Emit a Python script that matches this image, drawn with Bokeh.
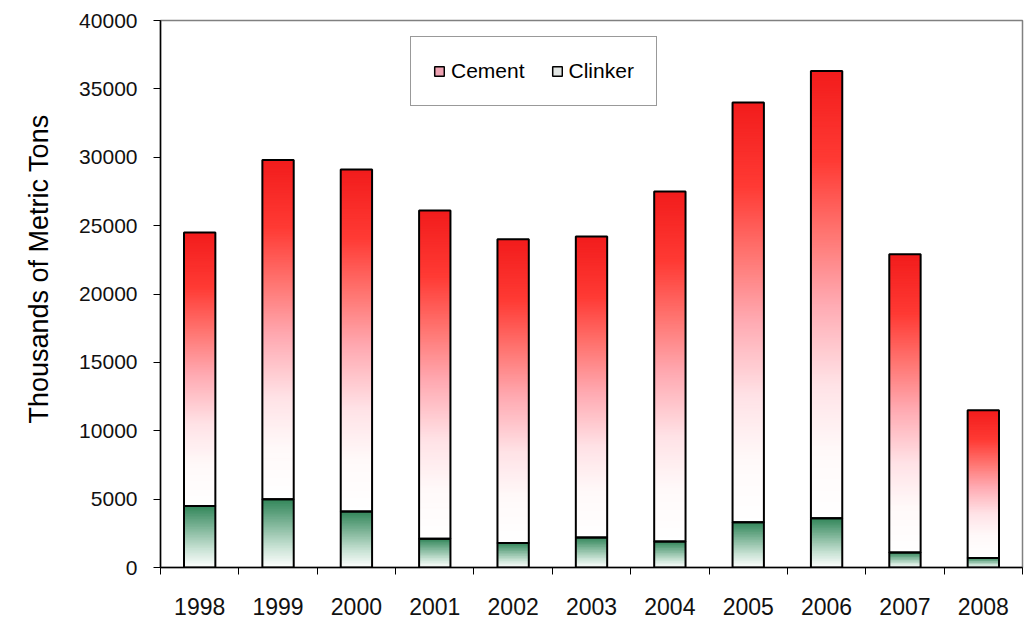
import math
import numpy as np
from bokeh.plotting import figure
from bokeh.models import (ColumnDataSource, FixedTicker, Legend, LegendItem,
                          Range1d, BasicTickFormatter, Title)
from bokeh.embed import file_html
from bokeh.resources import INLINE

# Imports by year, thousands of metric tons
years = ["1998", "1999", "2000", "2001", "2002", "2003",
         "2004", "2005", "2006", "2007", "2008"]
clinker = [4500, 5000, 4100, 2100, 1800, 2200, 1900, 3300, 3600, 1100, 700]
cement = [20000, 24800, 25000, 24000, 22200, 22000, 25600, 30700, 32700, 21800, 10800]

y_ticks = [0, 5000, 10000, 15000, 20000, 25000, 30000, 35000, 40000]

FONT = "Liberation Sans"
BAR_W = 0.4
SLICE_H = 120  # data height of one gradient strip

# colour stops (fraction from segment bottom -> rgb)
CEMENT_STOPS = [(0.0, (255, 255, 255)), (0.15, (255, 249, 249)),
                (0.3, (255, 226, 230)), (0.48, (255, 170, 178)),
                (0.64, (255, 116, 112)), (0.8, (255, 58, 52)),
                (1.0, (242, 28, 28))]
CLINKER_STOPS = [(0.0, (255, 255, 255)), (0.3, (200, 226, 212)),
                 (1.0, (50, 134, 90))]


def ramp(stops, f):
    pos = [s[0] for s in stops]
    rgb = [int(round(np.interp(f, pos, [s[1][ch] for s in stops])))
           for ch in range(3)]
    return "#%02x%02x%02x" % tuple(rgb)


xs = list(range(len(years)))
clinker_arr = np.array(clinker, dtype=float)
total_arr = clinker_arr + np.array(cement, dtype=float)

p = figure(width=1035, height=618, output_backend="svg", toolbar_location=None,
           x_range=Range1d(-0.5, len(years) - 0.5), y_range=Range1d(0, 40000),
           min_border_left=160, min_border_right=13, min_border_top=20,
           min_border_bottom=51)
p.background_fill_color = "white"
p.border_fill_color = "white"
p.outline_line_color = "#808080"
p.outline_line_width = 1.5
p.xgrid.visible = False
p.ygrid.visible = False


def gradient_segment(bottoms, tops, stops):
    sx, sb, st, sc = [], [], [], []
    for x, b, t in zip(xs, bottoms, tops):
        h = t - b
        n = max(int(math.ceil(h / SLICE_H)), 1)
        for i in range(n):
            sx.append(x)
            sb.append(b + h * i / n)
            st.append(min(b + h * (i + 2) / n, t))
            sc.append(ramp(stops, (i + 0.5) / n))
    src = ColumnDataSource(dict(x=sx, bottom=sb, top=st, color=sc))
    p.vbar(x="x", bottom="bottom", top="top", width=BAR_W, source=src,
           fill_color="color", line_color=None)


gradient_segment(np.zeros(len(xs)), clinker_arr, CLINKER_STOPS)
gradient_segment(clinker_arr, total_arr, CEMENT_STOPS)

# segment outlines
p.vbar(x=xs, bottom=0, top=clinker_arr, width=BAR_W, fill_alpha=0,
       line_color="black", line_width=2)
p.vbar(x=xs, bottom=clinker_arr, top=total_arr, width=BAR_W, fill_alpha=0,
       line_color="black", line_width=2)

# legend swatches (renderers with no visible geometry)
nan_quad = dict(left=[np.nan], right=[np.nan], bottom=[np.nan], top=[np.nan])
leg_cem = p.quad(source=ColumnDataSource(nan_quad), left="left", right="right",
                 bottom="bottom", top="top", fill_color="#eea2b2",
                 line_color="black", line_width=1.5)
leg_clk = p.quad(source=ColumnDataSource(dict(nan_quad)), left="left",
                 right="right", bottom="bottom", top="top",
                 fill_color="#e2e6e4", line_color="black", line_width=1.5)
legend = Legend(items=[LegendItem(label="Cement", renderers=[leg_cem]),
                       LegendItem(label="Clinker", renderers=[leg_clk])],
                orientation="horizontal", location=(250, 461), margin=0,
                padding=22, spacing=26, glyph_width=12, glyph_height=12,
                label_standoff=6, label_height=24,
                label_text_font=FONT, label_text_font_size="21px",
                label_text_color="black",
                border_line_color="#333333", border_line_width=1.5,
                background_fill_color="white", background_fill_alpha=1)
p.add_layout(legend)

# y axis
p.yaxis.ticker = FixedTicker(ticks=y_ticks)
p.yaxis.formatter = BasicTickFormatter(use_scientific=False)
p.yaxis.minor_tick_line_color = None
p.yaxis.major_tick_in = 0
p.yaxis.major_tick_out = 7
p.yaxis.major_tick_line_color = "black"
p.yaxis.axis_line_color = "black"
p.yaxis.axis_line_width = 1.5
p.yaxis.major_label_text_font = FONT
p.yaxis.major_label_text_font_size = "21px"
p.yaxis.major_label_text_color = "#111111"
p.yaxis.major_label_standoff = 16

# y axis title, starting above the bottom of the frame
p.add_layout(Title(text="Thousands of Metric Tons", align="left", offset=144,
                   standoff=42, vertical_align="top", text_font=FONT,
                   text_font_size="27px", text_font_style="normal",
                   text_color="black"), "left")

# x axis: labels at bar centres, tick marks between categories
p.xaxis.ticker = FixedTicker(ticks=xs,
                             minor_ticks=[x - 0.5 for x in xs] + [xs[-1] + 0.5])
p.xaxis.major_label_overrides = {x: y for x, y in zip(xs, years)}
p.xaxis.major_tick_line_color = None
p.xaxis.major_tick_in = 0
p.xaxis.major_tick_out = 0
p.xaxis.minor_tick_in = 0
p.xaxis.minor_tick_out = 7
p.xaxis.minor_tick_line_color = "black"
p.xaxis.axis_line_color = "black"
p.xaxis.axis_line_width = 1.5
p.xaxis.major_label_text_font = FONT
p.xaxis.major_label_text_font_size = "23px"
p.xaxis.major_label_text_color = "#111111"
p.xaxis.major_label_standoff = 23

open("out.html", "w").write(file_html(p, INLINE))
